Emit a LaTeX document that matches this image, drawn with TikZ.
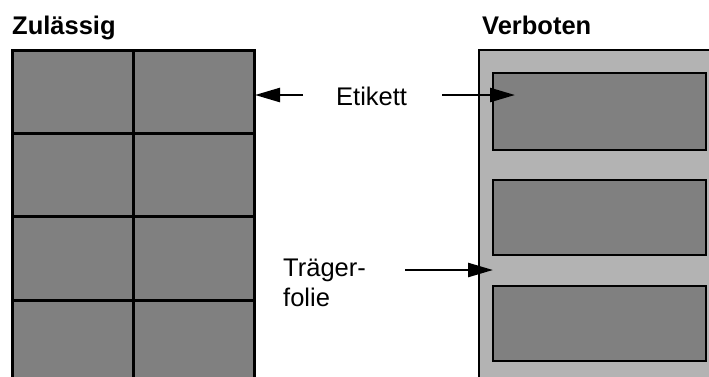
\documentclass[tikz,border=0pt]{standalone}
\usepackage{fontspec}
\setmainfont{Liberation Sans}
\usetikzlibrary{arrows.meta}
\definecolor{darkg}{HTML}{808080}
\definecolor{lightg}{HTML}{B3B3B3}
\begin{document}
\begin{tikzpicture}[x=1pt,y=-1pt,
  lbl/.style={inner sep=0pt,font=\fontsize{25.5}{30}\selectfont},
  ttl/.style={inner sep=0pt,font=\fontsize{25.5}{30}\selectfont\bfseries},
  cell/.style={fill=darkg,draw=black,line width=3pt},
  tray/.style={fill=lightg,draw=black,line width=2pt},
  label/.style={fill=darkg,draw=black,line width=2pt},
  arr/.style={line width=2.5pt,-{Triangle[length=25pt,width=14pt]}}]
\useasboundingbox (0,0) rectangle (709,376);
\clip (0,0) rectangle (709,376);
% titles
\node[ttl,anchor=base west] (t1) at (12,34) {Zulässig};
\node[ttl,anchor=base west] (t2) at (482,34) {Verboten};
% left grid
\path[cell] (12,50) rectangle (254,400);
\draw[line width=3pt] (133,50) -- (133,400);
\foreach \y in {133.3,216.7,300} \draw[line width=3pt] (12,\y) -- (254,\y);
% right tray
\path[tray] (479,50) rectangle (715,400);
\path[label] (493,73) rectangle (706,150);
\path[label] (493,180) rectangle (706,255);
\path[label] (493,286) rectangle (706,361);
% labels
\node[lbl,anchor=base west] (etikett) at (336,105) {Etikett};
\node[lbl,anchor=west,align=left] (traeger) at (283,283) {Träger-\\folie};
\coordinate (tipL) at (255,95);
\coordinate (tipR) at (515,95);
\coordinate (tipT) at (493,270);
\draw[arr,shorten <=33pt] (etikett.west |- tipL) -- (tipL);
\draw[arr,shorten <=35pt] (etikett.east |- tipR) -- (tipR);
\draw[arr,shorten <=39pt] (traeger.east |- tipT) -- (tipT);
\end{tikzpicture}
\end{document}
